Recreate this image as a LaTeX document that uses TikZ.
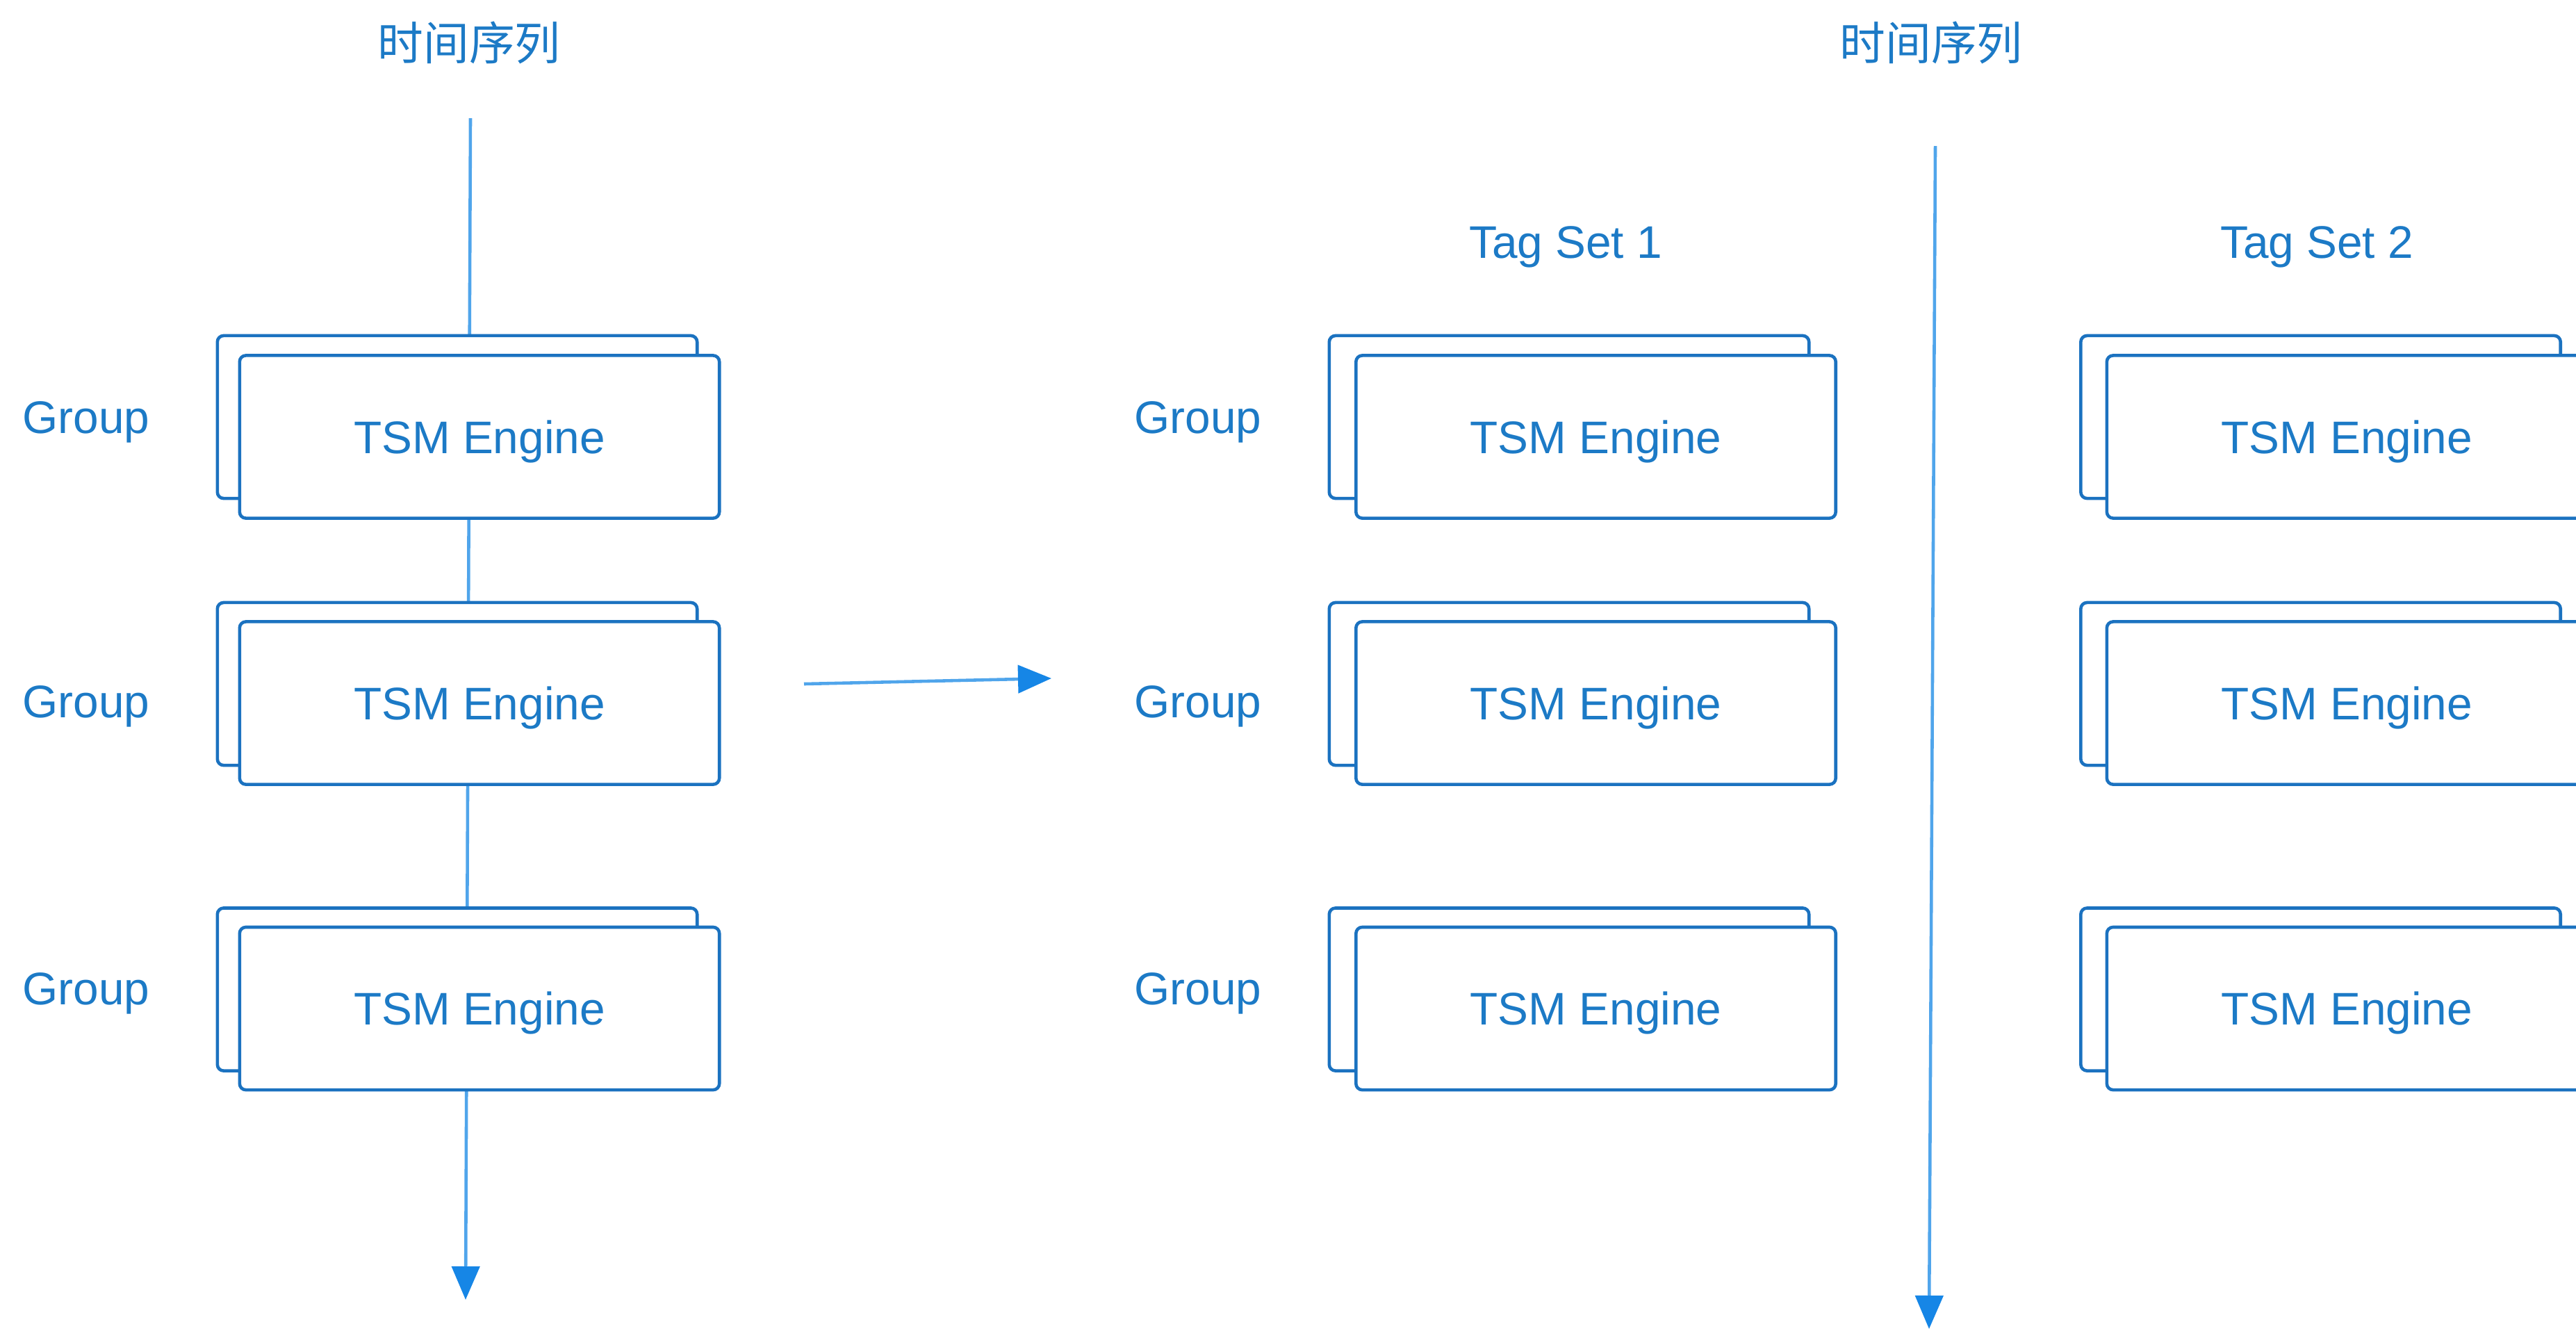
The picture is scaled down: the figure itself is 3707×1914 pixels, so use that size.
\documentclass[tikz,border=0pt]{standalone}
\usepackage{fontspec}
\setmainfont{Liberation Sans}
\newfontfamily\cjk{Noto Sans CJK SC}
\usetikzlibrary{arrows.meta}
\definecolor{boxblue}{RGB}{27,114,192}
\definecolor{txtblue}{RGB}{28,122,198}
\definecolor{lineblue}{RGB}{80,165,235}
\definecolor{tipblue}{RGB}{22,134,230}
\begin{document}
\begin{tikzpicture}[x=0.01cm,y=-0.01cm,
  shadowbox/.style={draw=boxblue, line width=1.3pt, rounded corners=0.09cm, fill=white,
    minimum width=6.9cm, minimum height=2.34cm, inner sep=0pt},
  engine/.style={shadowbox, text height=0.47cm, text depth=0pt, text=txtblue,
    font=\fontsize{18.7}{22}\selectfont},
  lbl/.style={text=txtblue, font=\fontsize{18.7}{22}\selectfont, inner sep=0pt},
  cjklbl/.style={text=txtblue, font=\fontsize{18.7}{22}\selectfont\cjk, inner sep=0pt},
  timeline/.style={draw=lineblue, line width=1.3pt,
    -{Triangle[length=0.48cm,width=0.4cm,color=tipblue]}},
]
\useasboundingbox (0,0) rectangle (3707,1914);
\clip (0,0) rectangle (3707,1914);

% titles
\node[cjklbl, anchor=base] (t1) at (675,86) {时间序列};
\node[cjklbl, anchor=base] (t2) at (2779,86) {时间序列};
\node[lbl, anchor=base] (ts1) at (2253,371) {Tag Set 1};
\node[lbl, anchor=base] (ts2) at (3334,371) {Tag Set 2};

% time lines and middle arrow
\coordinate (LT) at (677,170);
\coordinate (LB) at (670,1870);
\coordinate (RT) at (2785,210);
\coordinate (RB) at (2776,1912);
\coordinate (MA) at (1157,984);
\coordinate (MB) at (1513,976);
\draw[timeline] (LT) -- (LB);
\draw[timeline] (RT) -- (RB);
\draw[timeline] (MA) -- (MB);

% left column
\node[shadowbox] (L1b) at (658,600) {};
\node[engine] (L1) at (690,628.5) {TSM Engine};
\node[shadowbox] (L2b) at (658,984) {};
\node[engine] (L2) at (690,1011.5) {TSM Engine};
\node[shadowbox] (L3b) at (658,1423.5) {};
\node[engine] (L3) at (690,1451) {TSM Engine};

% middle column
\node[shadowbox] (M1b) at (2258,600) {};
\node[engine] (M1) at (2296.5,628.5) {TSM Engine};
\node[shadowbox] (M2b) at (2258,984) {};
\node[engine] (M2) at (2296.5,1011.5) {TSM Engine};
\node[shadowbox] (M3b) at (2258,1423.5) {};
\node[engine] (M3) at (2296.5,1451) {TSM Engine};

% right column
\node[shadowbox] (R1b) at (3339.5,600) {};
\node[engine] (R1) at (3377,628.5) {TSM Engine};
\node[shadowbox] (R2b) at (3339.5,984) {};
\node[engine] (R2) at (3377,1011.5) {TSM Engine};
\node[shadowbox] (R3b) at (3339.5,1423.5) {};
\node[engine] (R3) at (3377,1451) {TSM Engine};

% group labels
\node[lbl, anchor=base west] (g1) at (32,623) {Group};
\node[lbl, anchor=base west] (g2) at (32,1032) {Group};
\node[lbl, anchor=base west] (g3) at (32,1445) {Group};
\node[lbl, anchor=base west] (g4) at (1632,623) {Group};
\node[lbl, anchor=base west] (g5) at (1632,1032) {Group};
\node[lbl, anchor=base west] (g6) at (1632,1445) {Group};
\end{tikzpicture}
\end{document}
